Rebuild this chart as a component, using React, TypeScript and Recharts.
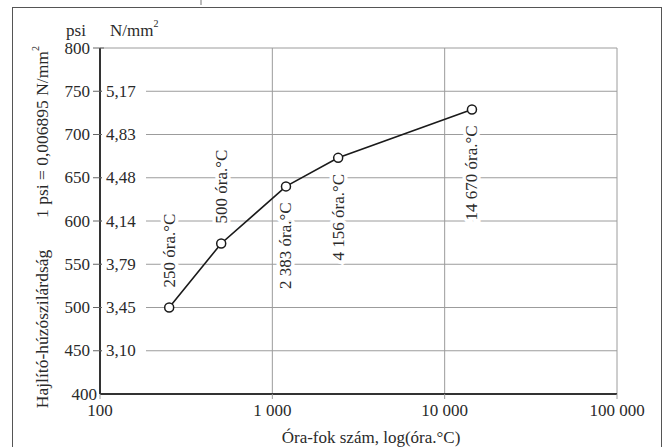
import React from 'react';
import { LineChart, Line, XAxis, YAxis, CartesianGrid, LabelList } from 'recharts';

const hours = [252, 505, 1200, 2410, 14400];
const strength = [500, 574, 640, 673, 729];
const pointLabels = ['250 óra.°C', '500 óra.°C', '2 383 óra.°C', '4 156 óra.°C', '14 670 óra.°C'];
const xTicks = [100, 1000, 10000, 100000];
const xTickLabels = ['100', '1 000', '10 000', '100 000'];
const yTicks = [400, 450, 500, 550, 600, 650, 700, 750, 800];
const yTicksMetric = ['', '3,10', '3,45', '3,79', '4,14', '4,48', '4,83', '5,17', ''];

const data = hours.map((h, i) => ({ h, v: strength[i], label: pointLabels[i] }));

const FONT = '"Liberation Serif", "Times New Roman", serif';
const TXT = '#2a2a2a';
const GRID = '#9c9c9c';

const YTick = (props: any) => {
  const { x, y, payload, index } = props;
  const value = payload.value;
  const metric = yTicksMetric[index] || '';
  const last = value === 400;
  return (
    <g>
      <text x={last ? x - 3 : x - 10} y={y} textAnchor="end" dominantBaseline="central" fontSize={17} fontFamily={FONT} fill={TXT}>{value}</text>
      {!last && <line x1={x - 7} x2={x + 4} y1={y} y2={y} stroke="#666" strokeWidth={1} />}
      {metric && <rect x={x + 2} y={y - 9} width={44} height={18} fill="#fff" />}
      {metric && <text x={x + 6} y={y} textAnchor="start" dominantBaseline="central" fontSize={17} fontFamily={FONT} fill={TXT}>{metric}</text>}
    </g>
  );
};

const XTick = (props: any) => {
  const { x, y, index } = props;
  return (
    <text x={x} y={y + 9} textAnchor="middle" dominantBaseline="central" fontSize={17} fontFamily={FONT} fill={TXT}>{xTickLabels[index]}</text>
  );
};

const PointLabel = (props: any) => {
  const { x, y, value, index } = props;
  const above = index < 2;
  const ty = above ? y - 20 : y + 16;
  return (
    <text x={x} y={ty} transform={`rotate(-90 ${x} ${ty})`} textAnchor={above ? 'start' : 'end'} dominantBaseline="central" fontSize={17} fontFamily={FONT} fill={TXT} stroke="#fff" strokeWidth={7} paintOrder="stroke">{value}</text>
  );
};

export default function App() {
  return (
    <div style={{ position: 'absolute', left: 0, top: 0, width: 666, height: 447, overflow: 'hidden', background: '#fff' }}>
      <div style={{ position: 'absolute', left: 12, top: 7, width: 648, height: 470, border: '1.5px solid #555' }} />
      <div style={{ position: 'absolute', left: 0, top: 0 }}>
        <LineChart width={666} height={447} data={data} margin={{ top: 48, right: 49, left: 0, bottom: 23 }}>
          <CartesianGrid stroke={GRID} strokeWidth={1} />
          <XAxis dataKey="h" type="number" scale="log" domain={[100, 100000]} ticks={xTicks} allowDataOverflow height={30}
            tick={<XTick />} tickSize={5} tickLine={{ stroke: GRID }} axisLine={{ stroke: '#333', strokeWidth: 2 }} interval={0} />
          <YAxis dataKey="v" type="number" domain={[400, 800]} ticks={yTicks} width={100} tick={<YTick />} tickSize={0} tickMargin={0}
            tickLine={false} axisLine={{ stroke: '#333', strokeWidth: 2 }} interval={0} />
          <Line dataKey="v" stroke="#1a1a1a" strokeWidth={1.6} isAnimationActive={false}
            dot={{ r: 4.5, fill: '#fff', stroke: '#1a1a1a', strokeWidth: 1.5 }}>
            <LabelList dataKey="label" content={<PointLabel />} />
          </Line>
        </LineChart>
      </div>
      <svg width={666} height={447} style={{ position: 'absolute', left: 0, top: 0, pointerEvents: 'none' }}>
        <line x1={201} x2={201} y1={0} y2={5} stroke="#777" strokeWidth={1} />
        <text x={76} y={30} textAnchor="middle" dominantBaseline="central" fontSize={17} fontFamily={FONT} fill={TXT}>psi</text>
        <text x={110} y={30} textAnchor="start" dominantBaseline="central" fontSize={17} fontFamily={FONT} fill={TXT}>N/mm<tspan fontSize={10} dy={-7}>2</tspan></text>
        <text x={42} y={329} transform="rotate(-90 42 329)" textAnchor="middle" dominantBaseline="central" fontSize={17.5} fontFamily={FONT} fill={TXT}>Hajlító-húzószilárdság</text>
        <text x={42} y={132} transform="rotate(-90 42 132)" textAnchor="middle" dominantBaseline="central" fontSize={17.5} fontFamily={FONT} fill={TXT}>1 psi = 0,006895 N/mm<tspan fontSize={10} dy={-7}>2</tspan></text>
        <text x={371} y={437} textAnchor="middle" dominantBaseline="central" fontSize={17} fontFamily={FONT} fill={TXT}>Óra-fok szám, log(óra.°C)</text>
      </svg>
    </div>
  );
}
